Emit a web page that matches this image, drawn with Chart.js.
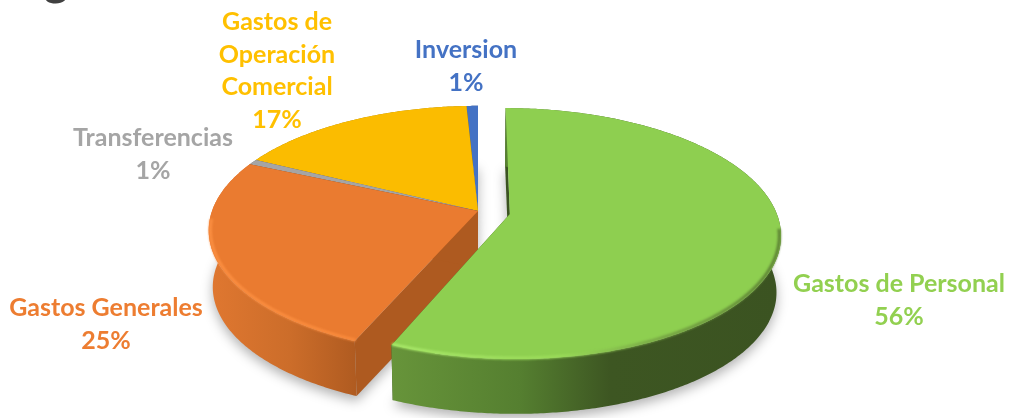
<!DOCTYPE html>
<html lang="es">
<head>
<meta charset="utf-8">
<title>Gastos</title>
<style>
html,body{margin:0;padding:0;background:#fff;overflow:hidden}
#wrap{position:relative;width:1009px;height:418px}
canvas{display:block}
</style>
<script src="https://cdn.jsdelivr.net/npm/chart.js@4"></script>
</head>
<body>
<div id="wrap"><canvas id="c" width="1009" height="418"></canvas></div>
<script>
// ---- data ----
const categories = ['Gastos de Personal', 'Gastos Generales', 'Transferencias', 'Gastos de Operación Comercial', 'Inversion'];
const shareValues = [56.5, 25.2, 0.7, 16.8, 0.8];
const labelLines = [['Gastos de Personal'], ['Gastos Generales'], ['Transferencias'], ['Gastos de', 'Operación', 'Comercial'], ['Inversion']];
const clippedTitleFragment = 'g';

// ---- style ----
const topColors = ['#8ECF50', '#EA7B30', '#A5A5A5', '#FBBC00', '#4472C4'];
const textColors = ['#92D050', '#ED7D31', '#A5A5A5', '#FFC000', '#4472C4'];
const sideColors = ['#3B5321', '#AE5A20', '#6E6E6E', '#A67F00', '#2D4C83'];
const wallStops = [
  [[392, '#67943A'], [520, '#557F30'], [610, '#3D5622'], [779, '#3B5321']],
  [[212, '#DF7730'], [290, '#CC6D2A'], [360, '#AE5A20']],
  [[0, '#6E6E6E'], [1009, '#6E6E6E']],
  [[0, '#A67F00'], [1009, '#A67F00']],
  [[0, '#2D4C83'], [1009, '#2D4C83']]
];
const rimStops = [
  [[392, '#A9E86A'], [560, '#9ADB59'], [660, '#76A444'], [779, '#5C8034']],
  [[212, '#FB8F42'], [360, '#F98A3B']],
  null, null, null
];
const rimRanges = [[0.12, 9], [0, Math.PI * 0.98], null, null, null];
const labelPositions = [[899, 284], [106, 308], [153, 138], [277, 22], [466, 50]];
const LINE = 32.5;
const GEOM = { rx: 266, ry: 121.5, persp: 0.1554, depth: 57, shrink: 0.985, dy: 2, rimInset: 0.994 };

function project(el, theta, r, deep, off) {
  const mid = (el.startAngle + el.endAngle) / 2;
  const d = off / el.outerRadius;
  const u = r * Math.cos(theta) + d * Math.cos(mid);
  const v = r * Math.sin(theta) + d * Math.sin(mid);
  const w = 1 - GEOM.persp * v;
  const s = deep ? GEOM.shrink : 1;
  return [el.x + GEOM.rx * s * u / w, el.y + GEOM.dy + (deep ? GEOM.depth : 0) + GEOM.ry * s * v / w];
}
function arcPoints(el, deep, from, to, r) {
  const off = el.options.offset || 0;
  const a = from === undefined ? el.startAngle : from;
  const b = to === undefined ? el.endAngle : to;
  const n = Math.max(2, Math.ceil((b - a) / 0.01));
  const pts = [];
  for (let i = 0; i <= n; i++) pts.push(project(el, a + (b - a) * i / n, r === undefined ? 1 : r, deep, off));
  return pts;
}
function tracePoly(ctx, pts) {
  ctx.beginPath();
  pts.forEach((p, i) => i ? ctx.lineTo(p[0], p[1]) : ctx.moveTo(p[0], p[1]));
  ctx.closePath();
}
function hGradient(ctx, stops) {
  const x0 = stops[0][0], x1 = stops[stops.length - 1][0];
  const g = ctx.createLinearGradient(x0, 0, x1, 0);
  stops.forEach(s => g.addColorStop((s[0] - x0) / (x1 - x0), s[1]));
  return g;
}

class Arc3D extends Chart.ArcElement {
  static id = 'arc3d';
  shadow(ctx) {
    const off = this.options.offset || 0;
    const tip = project(this, 0, 0, true, off);
    const pts = [tip].concat(arcPoints(this, true));
    ctx.save();
    ctx.filter = 'blur(6px)';
    ctx.fillStyle = 'rgba(0,0,0,0.30)';
    ctx.translate(0, 5);
    tracePoly(ctx, pts);
    ctx.fill();
    ctx.restore();
  }
  drawSlice(ctx, i) {
    const off = this.options.offset || 0;
    const tipT = project(this, 0, 0, false, off);
    const tipB = project(this, 0, 0, true, off);
    const top = arcPoints(this, false);
    const bottom = arcPoints(this, true);
    const aT = top[0], aB = bottom[0], zT = top[top.length - 1], zB = bottom[bottom.length - 1];
    ctx.save();
    ctx.lineJoin = 'round';
    // radial cut faces
    ctx.fillStyle = sideColors[i];
    tracePoly(ctx, [tipT, aT, aB, tipB]); ctx.fill();
    tracePoly(ctx, [tipT, zT, zB, tipB]); ctx.fill();
    // outer wall
    ctx.fillStyle = hGradient(ctx, wallStops[i]);
    tracePoly(ctx, top.concat(bottom.slice().reverse()));
    ctx.fill();
    // top face
    ctx.fillStyle = this.options.backgroundColor;
    tracePoly(ctx, [tipT].concat(top));
    ctx.fill();
    // bevel along the front rim
    if (rimStops[i]) {
      const from = Math.max(this.startAngle, rimRanges[i][0]);
      const to = Math.min(this.endAngle, rimRanges[i][1]);
      const rim = arcPoints(this, false, from, to, GEOM.rimInset);
      ctx.filter = 'blur(0.8px)';
      ctx.strokeStyle = hGradient(ctx, rimStops[i]);
      ctx.lineWidth = 3;
      ctx.lineCap = 'butt';
      ctx.beginPath();
      rim.forEach((p, k) => k ? ctx.lineTo(p[0], p[1]) : ctx.moveTo(p[0], p[1]));
      ctx.stroke();
    }
    ctx.restore();
  }
  draw(ctx) { this.drawSlice(ctx, this.$context ? this.$context.dataIndex : 0); }
}

class Pie3D extends Chart.PieController {
  static id = 'pie3d';
  static defaults = { dataElementType: 'arc3d', cutout: 0, rotation: 0, circumference: 360, radius: '100%', animation: false };
  draw() {
    const ctx = this.chart.ctx;
    const els = this._cachedMeta.data;
    els.forEach(el => el.shadow(ctx));
    for (let i = els.length - 1; i >= 0; i--) els[i].drawSlice(ctx, i);
  }
}
Chart.register(Arc3D, Pie3D);

const labelPlugin = {
  id: 'sliceLabels',
  afterDraw(chart) {
    const ctx = chart.ctx;
    const total = shareValues.reduce((a, b) => a + b, 0);
    ctx.save();
    ctx.textAlign = 'center';
    ctx.textBaseline = 'middle';
    ctx.font = 'bold 25px Lato, "Open Sans", sans-serif';
    categories.forEach((c, i) => {
      const lines = labelLines[i].concat([Math.round(shareValues[i] / total * 100) + '%']);
      ctx.fillStyle = textColors[i];
      lines.forEach((t, k) => ctx.fillText(t, labelPositions[i][0], labelPositions[i][1] + k * LINE));
    });
    ctx.textAlign = 'left';
    ctx.textBaseline = 'alphabetic';
    ctx.font = 'bold 46px Lato, sans-serif';
    ctx.fillStyle = '#404040';
    ctx.fillText(clippedTitleFragment, 44, -5);
    ctx.restore();
  }
};

new Chart(document.getElementById('c'), {
  type: 'pie3d',
  data: {
    labels: categories,
    datasets: [{ data: shareValues, backgroundColor: topColors, borderWidth: 0, offset: [24, 0, 0, 0, 0] }]
  },
  plugins: [labelPlugin],
  options: {
    responsive: false,
    animation: false,
    maintainAspectRatio: false,
    layout: { padding: { left: 0, right: 53, top: 0, bottom: 0 } },
    plugins: { legend: { display: false }, tooltip: { enabled: false }, title: { display: false } },
    events: []
  }
});
</script>
</body>
</html>
